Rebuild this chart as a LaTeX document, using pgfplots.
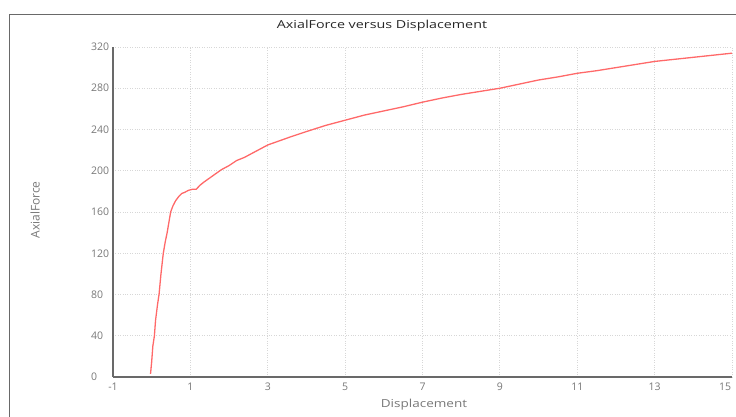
\documentclass[border=0pt]{standalone}
\usepackage{fontspec}
\setmainfont{Open Sans}
\newfontfamily\titlefont[FakeStretch=1.3]{Open Sans}
\newfontfamily\xlabfont[FakeStretch=1.23]{Open Sans}
\usepackage{pgfplots}
\pgfplotsset{compat=1.18}
\definecolor{curve}{RGB}{255,105,105}
\definecolor{axgray}{RGB}{105,105,105}
\definecolor{lblgray}{RGB}{120,120,120}
\definecolor{gridgray}{RGB}{215,215,215}
\begin{document}
\begin{tikzpicture}[x=1pt,y=1pt]
\draw[axgray, line width=0.9pt] (9,0) -- (9,403) -- (736,403);
\begin{axis}[
  at={(113pt,40pt)}, anchor=south west,
  scale only axis, width=619pt, height=330pt,
  xmin=-1, xmax=15, ymin=0, ymax=320,
  xtick={-1,1,3,5,7,9,11,13,15},
  xticklabels={-1,1,3,5,7,9,11,13,\makebox[0pt][r]{15\hspace{1pt}}},
  ytick={0,40,80,120,160,200,240,280,320},
  axis lines=left,
  axis line style={axgray, line width=2.2pt, -},
  major tick length=0pt,
  grid=major,
  grid style={gridgray, dotted, line width=0.8pt},
  tick label style={font=\fontsize{10.5}{12}\selectfont, text=lblgray},
  yticklabel style={anchor=west, inner sep=0pt, xshift=-22pt},
  xticklabel style={yshift=-2pt},
  /pgf/number format/assume math mode=true,
  clip=false,
]
\addplot[curve, line width=1.3pt] coordinates {
(-0.03,3)(0.0,15)(0.03,30)(0.07,40)(0.1,55)(0.15,70)(0.19,80)(0.24,100)(0.3,120)
(0.35,131)(0.4,140)(0.49,160)(0.55,166)(0.62,171)(0.7,175)(0.78,178)(0.85,179)
(0.95,181)(1.05,182)(1.15,182)(1.25,186)(1.35,189)(1.5,193)(1.65,197)(1.8,201)
(2.0,205)(2.2,210)(2.4,213)(2.6,217)(2.8,221)(3.0,225)(3.3,229)(3.6,233)(4.0,238)
(4.5,244)(5,249)(5.5,254)(6,258)(6.5,262)(7,266.5)(7.5,270.5)(8,274)(8.5,277)
(9,280)(9.5,284)(10,288)(10.5,291)(11,294.5)(11.5,297)(12,300)(12.5,303)(13,306)
(13.5,308)(14,310)(14.5,312)(15,314)
};
\end{axis}
\node[font=\titlefont\fontsize{11}{13}\selectfont, text=black!85] at (382,391) {AxialForce versus Displacement};
\node[font=\xlabfont\fontsize{11}{13}\selectfont, text=lblgray] at (424,12) {Displacement};
\node[font=\fontsize{12}{14}\selectfont, text=lblgray, rotate=90] at (35,207) {AxialForce};
\pgfresetboundingbox
\path (0,0) rectangle (736,417);
\end{tikzpicture}
\end{document}
